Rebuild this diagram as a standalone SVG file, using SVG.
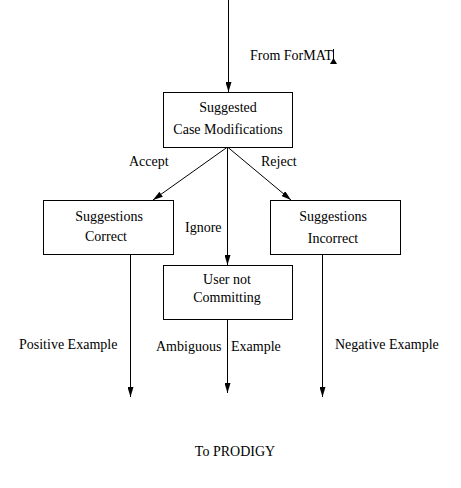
<svg xmlns="http://www.w3.org/2000/svg" width="461" height="488" viewBox="0 0 461 488">
<defs>
<marker id="ah" viewBox="0 0 10 6" refX="10" refY="3" markerWidth="10" markerHeight="6" markerUnits="userSpaceOnUse" orient="auto">
<path d="M0,0 L10,3 L0,6 z" fill="#000"/>
</marker>
</defs>
<style>
text{font-family:"Liberation Serif","Times New Roman",serif;font-size:14px;fill:#000}
.box{fill:#fff;stroke:#000;stroke-width:1}
.c{fill:none;stroke:#000;stroke-width:1;marker-end:url(#ah)}
.m{text-anchor:middle}
</style>
<rect width="461" height="488" fill="#fff"/>
<g id="connectors">
<line class="c" x1="228.5" y1="0" x2="228.5" y2="92"/>
<line class="c" x1="227.5" y1="147" x2="153" y2="200"/>
<line class="c" x1="227.5" y1="147" x2="291" y2="200"/>
<line class="c" x1="227.5" y1="147" x2="227.5" y2="265"/>
<line class="c" x1="130.5" y1="254" x2="130.5" y2="397"/>
<line class="c" x1="227.5" y1="319" x2="227.5" y2="393"/>
<line class="c" x1="322.5" y1="254" x2="322.5" y2="397"/>
<text x="250" y="60">From ForMAT</text>
<line x1="333.5" y1="49" x2="333.5" y2="63" stroke="#000"/>
<path d="M330,64 L333.5,58 L337,64 z" fill="#000"/>
<text x="129" y="166">Accept</text>
<text x="261" y="166">Reject</text>
<text x="185" y="232">Ignore</text>
<text x="19" y="349">Positive  Example</text>
<text x="156" y="351">Ambiguous</text>
<text x="231" y="351">Example</text>
<text x="335" y="349">Negative Example</text>
<text x="235" y="456" class="m">To PRODIGY</text>
</g>
<g id="n1">
<rect class="box" x="163.5" y="92.5" width="129" height="55"/>
<text x="228" y="112" class="m">Suggested</text>
<text x="228" y="134" class="m">Case Modifications</text>
</g>
<g id="n2">
<rect class="box" x="43.5" y="200.5" width="130" height="54"/>
<text x="109" y="221" class="m">Suggestions</text>
<text x="106" y="241" class="m">Correct</text>
</g>
<g id="n3">
<rect class="box" x="270.5" y="200.5" width="130" height="54"/>
<text x="333" y="221" class="m">Suggestions</text>
<text x="333" y="243" class="m">Incorrect</text>
</g>
<g id="n4">
<rect class="box" x="163.5" y="265.5" width="129" height="54"/>
<text x="227" y="284" class="m">User not</text>
<text x="227" y="302" class="m">Committing</text>
</g>
</svg>
